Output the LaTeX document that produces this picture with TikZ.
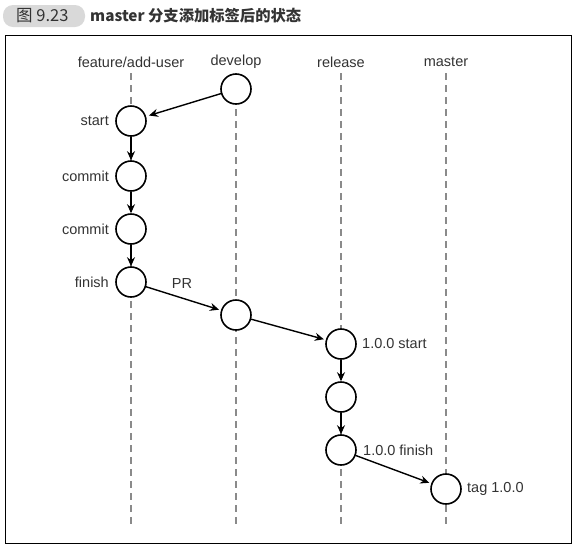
\documentclass[tikz,border=0pt]{standalone}
\usepackage{fontspec}
\setmainfont{Liberation Sans}
\newfontfamily\cjk{Noto Sans CJK SC}
\usetikzlibrary{arrows.meta}
\definecolor{txt}{HTML}{333333}
\definecolor{dashgray}{HTML}{8A8A8A}
\definecolor{badge}{HTML}{D9D9D9}
\begin{document}
\begin{tikzpicture}[x=1pt,y=-1pt,
  commitnode/.style={circle,draw=black,line width=1.6pt,fill=white,minimum size=30pt,inner sep=0pt},
  lbl/.style={text=txt,font=\fontsize{14.5}{16}\selectfont,inner sep=0pt},
  lane/.style={dashgray,line width=1.6pt,dash pattern=on 7pt off 5pt},
  link/.style={line width=1.4pt,-{Stealth[length=9pt,width=8pt]}}]
\useasboundingbox (0,0) rectangle (579,550);
% title
\node[fill=badge,rounded corners=10pt,minimum width=82pt,minimum height=22pt,inner sep=0pt] (badge) at (44,16) {};
\node[text=txt,font=\cjk\fontsize{16.5}{18}\selectfont,anchor=west,inner sep=0pt] (fig) at (16,16) {图 9.23};
\node[text=txt,font=\cjk\bfseries\fontsize{15.3}{17}\selectfont,anchor=west,inner sep=0pt] (title) at (90,16) {master 分支添加标签后的状态};
% frame
\draw[line width=1pt] (5,35) rectangle (571,543);
% branch headers
\node[lbl] (hf) at (131,62) {feature/add-user};
\node[lbl] (hd) at (236,62) {develop};
\node[lbl] (hr) at (341,62) {release};
\node[lbl] (hm) at (446,62) {master};
% lanes
\coordinate (ft) at (131,73); \coordinate (fb) at (131,525);
\coordinate (dt) at (236,73); \coordinate (db) at (236,525);
\coordinate (rt) at (341,73); \coordinate (rb) at (341,525);
\coordinate (mt) at (446,73); \coordinate (mb) at (446,525);
\draw[lane] (ft) -- (fb);
\draw[lane] (dt) -- (db);
\draw[lane] (rt) -- (rb);
\draw[lane] (mt) -- (mb);
% commits
\node[commitnode] (d1) at (236,89) {};
\node[commitnode] (s) at (131,121) {};
\node[commitnode] (c1) at (131,176) {};
\node[commitnode] (c2) at (131,229) {};
\node[commitnode] (f) at (131,282) {};
\node[commitnode] (d2) at (236,315) {};
\node[commitnode] (r1) at (341,344) {};
\node[commitnode] (r2) at (341,397) {};
\node[commitnode] (r3) at (341,450) {};
\node[commitnode] (m1) at (446,489) {};
% labels
\node[lbl,anchor=east] (ls) at (109,121) {start};
\node[lbl,anchor=east] (lc1) at (109,176) {commit};
\node[lbl,anchor=east] (lc2) at (109,229) {commit};
\node[lbl,anchor=east] (lf) at (109,282) {finish};
\node[lbl] (lpr) at (182,284) {PR};
\node[lbl,anchor=west] (lr1) at (362,344) {1.0.0 start};
\node[lbl,anchor=west] (lr3) at (363,450) {1.0.0 finish};
\node[lbl,anchor=west] (lm) at (467,489) {tag 1.0.0};
% links
\draw[link,shorten >=3pt] (d1) -- (s);
\draw[link] (s) -- (c1);
\draw[link] (c1) -- (c2);
\draw[link] (c2) -- (f);
\draw[link,shorten >=2pt] (f) -- (d2);
\draw[link,shorten >=2pt] (d2) -- (r1);
\draw[link] (r1) -- (r2);
\draw[link] (r2) -- (r3);
\draw[link,shorten >=2pt] (r3) -- (m1);
\end{tikzpicture}
\end{document}
